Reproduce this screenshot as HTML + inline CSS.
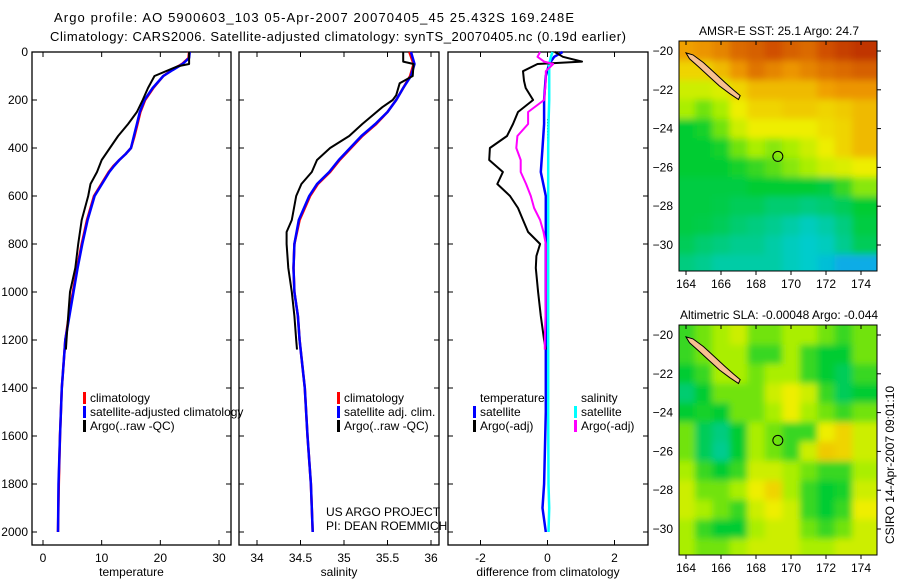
<!DOCTYPE html>
<html><head><meta charset="utf-8"><style>
html,body{margin:0;padding:0;background:#fff;}
svg{display:block;font-family:"Liberation Sans",sans-serif;}
</style></head><body>
<svg id="fig" width="900" height="580" viewBox="0 0 900 580" xmlns="http://www.w3.org/2000/svg">
<defs>
<filter id="blur1" x="0" y="0" width="1" height="1"><feGaussianBlur stdDeviation="3.5"/></filter>
<clipPath id="clipMap1"><rect x="679" y="41" width="198" height="230"/></clipPath>
<clipPath id="clipMap2"><rect x="679" y="325" width="198" height="230"/></clipPath>
</defs>
<text x="54" y="22" font-size="13" textLength="520">Argo profile: AO 5900603_103 05-Apr-2007 20070405_45 25.432S 169.248E</text>
<text x="50" y="41" font-size="13" textLength="576">Climatology: CARS2006. Satellite-adjusted climatology: synTS_20070405.nc (0.19d earlier)</text>
</svg>
<script>
// ---- data ----
const tDepth = [0,25,50,75,100,150,200,250,300,350,400,425,450,475,500,600,700,800,900,1000,1100,1200,1400,1600,1800,2000];
const tClim = [24.9,24.8,23.7,22,20.5,18.8,17.4,16.6,16.1,15.6,15,14.1,13.0,12.0,11.2,8.7,7.5,6.6,5.8,5.1,4.4,3.8,3.2,2.9,2.7,2.55];
const tSat  = [25.0,24.9,23.8,22.1,20.5,18.7,17.3,16.5,16.0,15.5,15.0,14.1,13.0,12.1,11.3,8.8,7.6,6.7,5.9,5.2,4.5,3.8,3.2,2.9,2.65,2.55];
const aDepth = [0,50,60,100,150,200,250,300,350,400,450,500,550,600,700,800,900,1000,1100,1200,1240];
const tArgo = [24.9,24.9,22.9,19,17.9,17,16,14.5,12.8,11.4,10,9.2,8.1,7.7,6.6,6,5.5,4.6,4.3,4.0,3.9];
const sDepth = [0,50,100,150,200,250,300,350,400,450,500,550,600,700,800,900,1000,1100,1200,1400,1600,1800,2000];
const sClim = [35.75,35.8,35.76,35.68,35.6,35.5,35.37,35.21,35.08,34.95,34.84,34.7,34.61,34.49,34.43,34.42,34.43,34.47,34.49,34.55,34.58,34.62,34.64];
const sSat  = [35.77,35.81,35.77,35.68,35.6,35.5,35.36,35.2,35.07,34.94,34.83,34.69,34.6,34.48,34.43,34.42,34.43,34.47,34.49,34.55,34.58,34.62,34.64];
const sArgoDepth = [0,40,50,100,130,180,200,230,300,350,400,450,500,550,600,700,750,800,900,1000,1100,1200,1240];
const sArgo = [35.68,35.68,35.8,35.79,35.64,35.6,35.56,35.44,35.21,35.06,34.84,34.69,34.63,34.51,34.45,34.4,34.34,34.34,34.36,34.4,34.43,34.45,34.46];
const dDepthA = [0,20,40,50,80,120,150,200,250,300,350,400,450,500,550,600,650,700,750,800,850,900,1000,1100,1200,1240];
const dTempArgo = [0.22,0.46,1.03,-0.3,-0.73,-0.7,-0.65,-0.43,-0.88,-1.03,-1.21,-1.72,-1.74,-1.33,-1.5,-1.12,-0.88,-0.73,-0.58,-0.22,-0.33,-0.35,-0.28,-0.2,-0.1,-0.05];
const dSalArgo  = [-0.22,-0.3,-0.1,0.17,-0.05,-0.05,-0.07,-0.1,-0.58,-0.58,-0.9,-0.93,-0.8,-0.8,-0.64,-0.5,-0.4,-0.22,-0.12,-0.05,-0.05,-0.05,-0.05,-0.06,-0.08,-0.08];
const dDepthS = [0,20,50,100,200,300,400,500,600,800,1000,1500,1800,1900,2000];
const dTempSat = [0.45,0.2,0.05,-0.05,-0.1,-0.1,-0.15,-0.2,-0.05,-0.05,-0.05,-0.05,-0.1,-0.15,-0.05];
const dSalSat  = [0.15,0.1,0.05,0.05,0.05,0.03,0.02,0.02,0.02,0.02,0.02,0.02,0.03,0.05,0.03];
const depthTicks = [0,200,400,600,800,1000,1200,1400,1600,1800,2000];
const tempTicks = [0,10,20,30];
const salTicks = [34,34.5,35,35.5,36];
const salTickLabels = ["34","34.5","35","35.5","36"];
const diffTicks = [-2,0,2];
const lonTicks = [164,166,168,170,172,174];
const latTicks = [-20,-22,-24,-26,-28,-30];
const sstGrid = [
[0.7,0.72,0.75,0.8,0.82,0.85,0.82,0.8,0.85,0.88,0.9],
[0.6,0.6,0.65,0.72,0.78,0.75,0.72,0.75,0.78,0.8,0.82],
[0.5,0.5,0.52,0.6,0.65,0.65,0.65,0.65,0.7,0.72,0.72],
[0.45,0.4,0.45,0.55,0.6,0.6,0.62,0.62,0.6,0.62,0.65],
[0.3,0.32,0.4,0.5,0.55,0.55,0.55,0.55,0.58,0.6,0.65],
[0.3,0.3,0.32,0.4,0.45,0.42,0.45,0.5,0.55,0.6,0.65],
[0.3,0.3,0.3,0.32,0.35,0.38,0.42,0.45,0.5,0.52,0.55],
[0.28,0.28,0.28,0.28,0.3,0.3,0.3,0.3,0.28,0.35,0.42],
[0.28,0.28,0.27,0.25,0.25,0.22,0.22,0.2,0.22,0.25,0.3],
[0.28,0.27,0.25,0.22,0.2,0.18,0.15,0.12,0.15,0.2,0.28],
[0.25,0.22,0.2,0.18,0.18,0.15,0.12,0.1,0.12,0.18,0.25],
[0.2,0.18,0.15,0.15,0.15,0.15,0.12,0.1,0.08,0.05,0.05]];
const slaGrid = [
[.35,.4,.45,.5,.4,.4,.45,.45,.4,.35,.4],
[.35,.4,.45,.45,.35,.35,.45,.35,.3,.3,.4],
[.3,.35,.45,.45,.4,.45,.45,.35,.3,.25,.35],
[.22,.3,.4,.4,.4,.5,.55,.5,.35,.25,.3],
[.3,.32,.3,.4,.4,.45,.55,.45,.4,.35,.4],
[.4,.25,.2,.3,.45,.4,.35,.35,.55,.6,.5],
[.4,.25,.18,.3,.45,.4,.35,.5,.62,.6,.5],
[.45,.35,.3,.35,.5,.5,.45,.4,.35,.35,.45],
[.5,.4,.4,.45,.55,.6,.45,.35,.3,.32,.5],
[.5,.45,.4,.35,.5,.55,.5,.35,.3,.35,.55],
[.45,.35,.3,.3,.45,.5,.5,.4,.35,.4,.5],
[.45,.4,.4,.45,.5,.5,.5,.45,.45,.5,.5]];
const islandLon = [164.0,164.4,165.0,165.6,166.2,166.7,167.1,167.0,166.5,165.9,165.3,164.7,164.2];
const islandLat = [-20.1,-20.2,-20.6,-21.1,-21.6,-22.0,-22.3,-22.5,-22.2,-21.8,-21.3,-20.8,-20.4];
const floatLon = 169.248, floatLat = -25.432;

// ---- helpers ----
const NS = "http://www.w3.org/2000/svg";
const svg = document.getElementById('fig');
function mk(tag, attrs, parent){const e=document.createElementNS(NS,tag);for(const k in attrs)e.setAttribute(k,attrs[k]);(parent||svg).appendChild(e);return e;}
const Y0 = 52, YK = 0.24;
const yD = d => Y0 + d*YK;
function lin(d0,d1,p0,p1){return v => p0 + (v-d0)*(p1-p0)/(d1-d0);}
const xT = lin(0,30,43,219);
const xS = lin(34,36,257,431);
const xD = lin(-2,2,480.5,614.5);

function panel(name,x0,x1,xf,ticks,labels,title){
  const r = mk('rect',{x:x0,y:Y0,width:x1-x0,height:493,fill:'#fff',stroke:'#000','stroke-width':1.3});
  
  
  depthTicks.forEach(d=>{
    const y=yD(d);
    const t1=mk('line',{x1:x0,x2:x0+5,y1:y,y2:y,stroke:'#000'});
    
    
    const t2=mk('line',{x1:x1-5,x2:x1,y1:y,y2:y,stroke:'#000'});
    
    
  });
  ticks.forEach((v,i)=>{
    const x=xf(v);
    const a=mk('line',{x1:x,x2:x,y1:Y0,y2:Y0+5,stroke:'#000'});
    
    
    const b=mk('line',{x1:x,x2:x,y1:545,y2:540,stroke:'#000'});
    
    
    const t=mk('text',{x:x,y:562,'font-size':12,'text-anchor':'middle'});
    t.textContent=labels[i];
    
    
  });
  const tt=mk('text',{x:(x0+x1)/2,y:576,'font-size':12,'text-anchor':'middle'});
  tt.textContent=title;
  
  
}
panel('temperature-panel',32,231,xT,tempTicks,tempTicks.map(String),'temperature');
panel('salinity-panel',239,439,xS,salTicks,salTickLabels,'salinity');
panel('difference-panel',448,648,xD,diffTicks,diffTicks.map(String),'difference from climatology');
depthTicks.forEach(d=>{
  const t=mk('text',{x:28,y:yD(d)+4,'font-size':12,'text-anchor':'end'});
  t.textContent=String(d);
  
  
});

function series(name,depths,vals,xf,color,w,dash){
  const pts=depths.map((d,i)=>xf(vals[i]).toFixed(1)+','+yD(d).toFixed(1)).join(' ');
  const a={points:pts,fill:'none',stroke:color,'stroke-width':w,'stroke-linejoin':'round'};
  if(dash)a['stroke-dasharray']=dash;
  const p=mk('polyline',a);
  
  
}
series('temp-climatology-line',tDepth,tClim,xT,'#f00',2.5);
series('temp-satellite-line',tDepth,tSat,xT,'#00f',2.5);
series('temp-argo-line',aDepth,tArgo,xT,'#000',2);
series('sal-climatology-line',sDepth,sClim,xS,'#f00',2.5);
series('sal-satellite-line',sDepth,sSat,xS,'#00f',2.5);
series('sal-argo-line',sArgoDepth,sArgo,xS,'#000',2);
const zl=mk('line',{x1:xD(0),x2:xD(0),y1:yD(280),y2:yD(620),stroke:'#000','stroke-dasharray':'1,2'});


series('diff-temp-satellite-line',dDepthS,dTempSat,xD,'#00f',2.5);
series('diff-sal-satellite-line',dDepthS,dSalSat,xD,'#0ff',2.5);
series('diff-temp-argo-line',dDepthA,dTempArgo,xD,'#000',2);
series('diff-sal-argo-line',dDepthA,dSalArgo,xD,'#f0f',2);

function legend(name,x,y,items){
  items.forEach((it,i)=>{
    const yy=y+i*14;
    if(it[1]){
      const m=mk('rect',{x:x,y:yy-10,width:3,height:12,fill:it[1]});
      
      
    }
    const t=mk('text',{x:x+7,y:yy,'font-size':12});
    t.textContent=it[0];
    
    
  });
}
legend('temp-legend',83,402,[['climatology','#f00'],['satellite-adjusted climatology','#00f'],['Argo(..raw -QC)','#000']]);
legend('sal-legend',337,402,[['climatology','#f00'],['satellite adj. clim.','#00f'],['Argo(..raw -QC)','#000']]);
legend('diff-temp-legend',473,402,[['temperature',null],['satellite','#00f'],['Argo(-adj)','#000']]);
legend('diff-sal-legend',574,402,[['salinity',null],['satellite','#0ff'],['Argo(-adj)','#f0f']]);
const cr1=mk('text',{x:326,y:516,'font-size':12});cr1.textContent='US ARGO PROJECT';


const cr2=mk('text',{x:326,y:530,'font-size':12});cr2.textContent='PI: DEAN ROEMMICH';



// ---- maps ----
const stops=[[0,[26,140,255]],[0.1,[0,204,204]],[0.3,[0,204,51]],[0.45,[170,238,0]],[0.55,[238,238,0]],[0.7,[240,160,0]],[0.85,[208,80,0]],[1,[160,0,0]]];
function cmap(v){for(let i=1;i<stops.length;i++){if(v<=stops[i][0]){const a=stops[i-1],b=stops[i];const f=(v-a[0])/(b[0]-a[0]);return 'rgb('+a[1].map((c,k)=>Math.round(c+(b[1][k]-c)*f)).join(',')+')';}}return 'rgb(160,0,0)';}
const xLon = lin(164,174,686,861);
function drawMap(name,grid,top,title,clip){
  const yLat = lin(-20,-30,top+10,top+204);
  const g=mk('g',{'clip-path':'url(#'+clip+')'});
  
  
  const bg=mk('rect',{x:679,y:top,width:198,height:230,fill:cmap(grid[6][5])},g);
  
  
  const gi=mk('g',{filter:'url(#blur1)'},g);
  grid.forEach((row,r)=>row.forEach((v,c)=>{
    const x0=xLon(163.5+c), y0=yLat(-19.5-r);
    const cell=mk('rect',{x:x0-(c==0?20:0),y:y0-(r==0?20:0),width:xLon(164.5+c)-x0+1+(c==0?20:0)+(c==row.length-1?20:0),height:yLat(-20.5-r)-y0+1+(r==0?20:0)+(r==grid.length-1?20:0),fill:cmap(v)},gi);
    
    
  }));
  const pts=islandLon.map((l,i)=>xLon(l).toFixed(1)+','+yLat(islandLat[i]).toFixed(1)).join(' ');
  const isl=mk('polygon',{points:pts,fill:'#f8c090',stroke:'#000','stroke-width':1},g);
  
  
  const fl=mk('circle',{cx:xLon(floatLon),cy:yLat(floatLat),r:5,fill:'none',stroke:'#000','stroke-width':1});
  
  
  const fr=mk('rect',{x:679,y:top,width:198,height:230,fill:'none',stroke:'#000','stroke-width':1});
  
  
  lonTicks.forEach(l=>{
    const x=xLon(l);
    const tk=mk('line',{x1:x,x2:x,y1:top,y2:top+4,stroke:'#000'});
    
    
    const tk2=mk('line',{x1:x,x2:x,y1:top+230,y2:top+234,stroke:'#000'});
    
    
    const t=mk('text',{x:x,y:top+247,'font-size':12,'text-anchor':'middle'});
    t.textContent=String(l);
    
    
  });
  latTicks.forEach(l=>{
    const y=yLat(l);
    const tk=mk('line',{x1:877,x2:881,y1:y,y2:y,stroke:'#000'});
    
    
    const t=mk('text',{x:673,y:y+4,'font-size':12,'text-anchor':'end'});
    t.textContent='\u2212'+String(-l);
    
    
  });
  const tt=mk('text',{x:779,y:top-6,'font-size':12,'text-anchor':'middle'});
  tt.textContent=title;
  
  
}
drawMap('sst-map',sstGrid,41,'AMSR-E SST: 25.1 Argo: 24.7','clipMap1');
drawMap('sla-map',slaGrid,325,'Altimetric SLA: -0.00048 Argo: -0.044','clipMap2');
const stamp=mk('text',{x:0,y:0,'font-size':12,'text-anchor':'middle',transform:'translate(894,465) rotate(-90)'});
stamp.textContent='CSIRO 14-Apr-2007 09:01:10';


</script>
</body></html>
